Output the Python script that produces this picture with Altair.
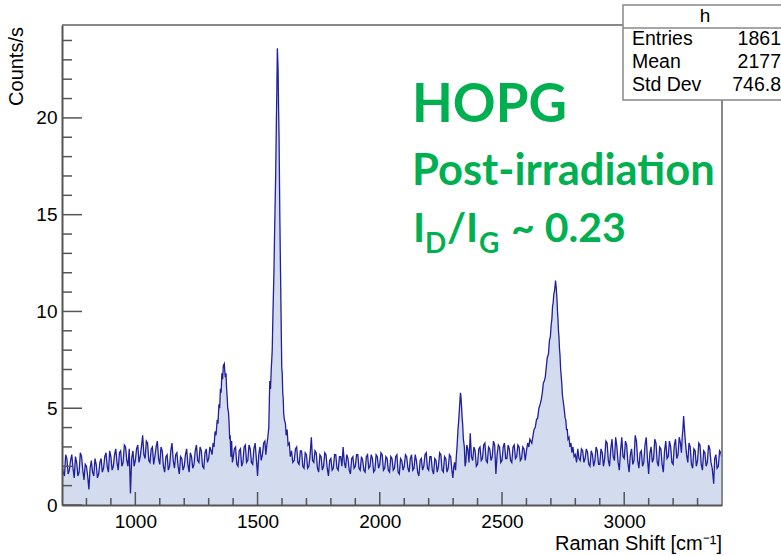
import altair as alt
import pandas as pd

# ---- spectrum values (Raman shift in cm^-1, counts/s) ----
shift_a = [700, 705, 710, 715, 720, 725, 730, 735, 740, 745, 750, 755, 760, 765, 770, 775,
           780, 785, 790, 795, 800, 805, 810, 815, 820, 825, 830, 835, 840,
           845, 850, 855, 860, 865, 870, 875, 880, 885, 890, 895, 900, 905, 910, 915, 920,
           925, 930, 935, 940, 945, 950, 955, 960,
           965, 970, 975, 980, 985, 990, 995, 1000, 1005, 1010, 1015, 1020, 1025, 1030, 1035,
           1040, 1045, 1050, 1055, 1060, 1065, 1070, 1075, 1080, 1085, 1090, 1095, 1100,
           1105, 1110, 1115, 1120, 1125, 1130, 1135, 1140, 1145, 1150, 1155, 1160, 1165, 1170,
           1175, 1180, 1185, 1190, 1195, 1200, 1205, 1210, 1215, 1220, 1225, 1230,
           1235, 1240, 1245, 1250, 1255, 1260, 1265, 1270, 1275, 1280, 1285, 1290, 1295, 1300,
           1305, 1310]
counts_a = [2.1, 1.7, 1.5, 2.6, 2.4, 1.6, 1.8, 2.3, 2.6, 1.9, 1.4, 2.5, 2.2, 1.5, 1.7, 2.7,
            2.5, 1.8, 1.3, 2.1, 2.0, 1.5, 0.8, 1.9, 2.3, 1.7, 1.5, 2.4, 2.1,
            1.4, 1.6, 2.2, 2.4, 1.7, 1.9, 2.5, 2.7, 2.0, 1.7, 2.8, 2.5, 1.8, 2.0, 2.6, 2.9,
            2.2, 1.8, 2.7, 2.8, 2.0, 2.2, 3.1, 3.0,
            2.3, 2.0, 2.9, 0.6, 2.4, 2.8, 2.0, 2.3, 2.9, 3.1, 2.2, 2.5, 3.0, 3.6, 2.6,
            2.4, 3.3, 3.2, 2.3, 2.2, 2.9, 3.0, 2.1, 2.5, 3.0, 3.3, 2.4, 2.1,
            3.0, 2.8, 2.0, 1.7, 2.5, 2.6, 1.8, 2.0, 2.8, 3.2, 2.3, 1.9, 2.6, 2.7,
            2.0, 1.6, 2.5, 2.4, 1.8, 2.0, 2.6, 2.9, 2.1, 1.7, 2.7, 2.5,
            1.9, 2.1, 2.8, 3.1, 2.3, 2.2, 3.0, 2.8, 2.0, 1.9, 2.7, 2.9, 2.2, 2.4,
            3.0, 2.8]

shift_d = [1314, 1318, 1322, 1326, 1330, 1335, 1338, 1342, 1345, 1348, 1351, 1354, 1357,
           1360, 1364, 1366, 1368, 1371, 1373, 1376, 1378, 1381, 1383, 1386, 1388, 1391,
           1394, 1397, 1400]
counts_d = [2.6, 3.2, 3.0, 3.8, 3.6, 4.4, 4.2, 5.2, 5.0, 6.0, 5.8, 6.8, 6.5,
            7.2, 7.3, 6.9, 6.6, 6.8, 6.1, 5.5, 5.0, 4.8, 4.4, 3.4, 3.6, 2.5,
            3.3, 2.2, 2.4]

shift_b = [1405, 1410, 1415, 1420, 1425, 1430, 1435, 1440, 1445, 1450, 1455, 1460, 1465,
           1470, 1475, 1480, 1485, 1490, 1495, 1500, 1505, 1510, 1515, 1520, 1525, 1530,
           1534, 1537]
counts_b = [2.9, 3.0, 2.1, 2.0, 2.8, 2.9, 2.0, 2.2, 3.0, 3.1, 2.2, 2.3, 3.1,
            2.9, 2.2, 2.1, 2.9, 3.2, 2.4, 1.5, 2.6, 3.0, 2.3, 2.6, 3.2, 3.3,
            2.6, 3.0]

shift_g = [1542, 1546, 1550, 1553, 1556, 1560, 1563, 1567, 1570, 1574, 1577, 1579, 1581,
           1584, 1586, 1588, 1591, 1594, 1597, 1599, 1601, 1603, 1605, 1607, 1610, 1614,
           1617, 1621, 1625, 1630, 1634, 1639, 1644]
counts_g = [3.5, 4.0, 6.4, 6.0, 7.0, 8.0, 9.9, 12.0, 14.3, 17.0, 19.8, 21.5, 23.6,
            22.5, 20.5, 19.0, 15.0, 12.0, 9.0, 7.1, 6.8, 5.8, 5.5, 4.7, 4.4, 4.2,
            3.6, 3.9, 3.1, 3.2, 2.5, 2.8, 2.2]

shift_c = [1650, 1655, 1660, 1665, 1670, 1675, 1680, 1685, 1690, 1695, 1700, 1705, 1710,
           1715, 1720, 1725, 1730, 1735, 1740, 1745, 1750, 1755, 1760, 1765, 1770, 1775,
           1780, 1785, 1790, 1795, 1800, 1805, 1810, 1815, 1820, 1825, 1830, 1835, 1840,
           1845, 1850, 1855, 1860, 1865, 1870, 1875, 1880, 1885, 1890, 1895, 1900, 1905,
           1910, 1915, 1920, 1925, 1930, 1935, 1940, 1945, 1950, 1955, 1960, 1965, 1970,
           1975, 1980, 1985, 1990, 1995, 2000, 2005, 2010, 2015, 2020, 2025, 2030, 2035,
           2040, 2045, 2050, 2055, 2060, 2065, 2070, 2075, 2080, 2085, 2090, 2095, 2100,
           2105, 2110, 2115, 2120, 2125, 2130, 2135, 2140, 2145, 2150, 2155, 2160, 2165,
           2170, 2175, 2180, 2185, 2190, 2195, 2200, 2205, 2210, 2215, 2220, 2225, 2230,
           2235, 2240, 2245, 2250, 2255, 2260, 2265, 2270, 2275, 2280, 2285, 2290, 2295, 2299]
counts_c = [2.3, 2.9, 3.0, 2.2, 2.1, 2.8, 2.8, 2.0, 1.9, 2.7, 2.6, 1.9, 2.0,
            2.6, 3.5, 2.3, 2.2, 2.8, 2.7, 1.9, 1.7, 2.6, 2.5, 1.8, 2.0, 2.7,
            2.6, 1.9, 1.5, 2.3, 2.4, 1.8, 1.9, 2.6, 2.6, 1.9, 1.8, 2.5, 2.5,
            2.0, 3.0, 2.2, 1.9, 2.6, 2.4, 1.8, 1.6, 2.4, 2.5, 1.9, 2.0, 2.6,
            2.6, 1.9, 1.8, 2.5, 2.3, 1.8, 1.7, 2.5, 2.6, 1.9, 2.0, 2.6, 2.4,
            1.7, 1.8, 2.6, 2.5, 1.9, 2.1, 2.7, 2.6, 1.8, 1.9, 2.5, 2.4, 1.8,
            1.7, 2.5, 2.4, 1.8, 1.9, 2.5, 2.6, 1.7, 1.6, 2.4, 2.3, 1.8, 2.0,
            2.6, 2.5, 1.9, 1.7, 2.4, 2.6, 1.8, 1.9, 2.6, 2.3, 1.7, 1.5, 2.3,
            2.4, 1.8, 2.0, 2.6, 2.7, 1.9, 1.8, 2.5, 2.5, 1.8, 1.6, 2.4, 2.3,
            1.7, 2.0, 2.7, 2.6, 1.8, 1.7, 2.5, 2.4, 1.7, 1.9, 2.6, 2.5, 1.8, 1.4]

shift_n = [2303, 2306, 2310, 2313, 2316, 2320, 2323, 2326, 2330, 2332, 2334, 2337, 2339,
           2342, 2346, 2349, 2352, 2356]
counts_n = [2.0, 2.2, 1.8, 2.5, 3.0, 3.9, 4.4, 5.0, 5.8, 5.6, 5.2, 4.5, 4.2,
            3.4, 3.0, 2.0, 2.2, 3.1]

shift_e = [2360, 2365, 2370, 2375, 2380, 2385, 2390, 2395, 2400, 2405, 2410, 2415, 2420,
           2425, 2430, 2435, 2440, 2445, 2450, 2455, 2460, 2465, 2470, 2475, 2480, 2485,
           2490, 2495, 2500, 2505, 2510, 2515, 2520, 2525, 2530, 2535, 2540, 2545, 2550,
           2555, 2560, 2565, 2570, 2575, 2580, 2585, 2590, 2595, 2600, 2605]
counts_e = [2.9, 2.2, 3.7, 2.5, 2.3, 3.0, 2.8, 2.0, 2.1, 2.9, 3.0, 2.3, 2.4,
            3.1, 3.2, 2.3, 2.2, 3.0, 2.9, 2.3, 2.5, 3.3, 3.1, 1.6, 2.6, 3.1,
            3.0, 2.2, 2.3, 3.0, 3.2, 2.4, 2.4, 3.1, 2.9, 2.3, 2.2, 3.0, 3.1,
            2.4, 2.5, 3.1, 3.0, 2.3, 2.4, 3.0, 2.9, 2.3, 2.8, 3.2]

shift_2d = [2610, 2614, 2618, 2622, 2627, 2631, 2636, 2641, 2646, 2651, 2656, 2660, 2665,
            2669, 2673, 2677, 2681, 2685, 2690, 2694, 2698, 2701, 2704, 2707, 2709, 2712,
            2714, 2717, 2719, 2722, 2725, 2727, 2729, 2731, 2733, 2735, 2737, 2740, 2742,
            2745, 2747, 2750, 2753, 2755, 2758, 2761, 2764, 2767, 2770, 2774, 2778, 2782,
            2786, 2790, 2795]
counts_2d = [3.0, 3.4, 3.3, 3.2, 3.6, 3.9, 4.0, 4.4, 4.5, 5.0, 5.2, 5.4, 5.8,
             6.3, 6.4, 6.6, 7.1, 7.6, 7.8, 8.5, 8.7, 9.3, 9.6, 10.3, 10.4, 10.9,
             11.0, 11.3, 11.6, 11.2, 10.6, 10.0, 9.6, 9.0, 8.7, 8.1, 7.8, 7.0, 6.7,
             6.2, 5.7, 5.4, 5.1, 4.9, 4.5, 4.4, 3.9, 3.9, 3.4, 3.5, 3.0, 3.2,
             2.7, 3.0, 2.5]

shift_f = [2800, 2805, 2810, 2815, 2820, 2825, 2830, 2835, 2840, 2845, 2850, 2855, 2860,
           2865, 2870, 2875, 2880, 2885, 2890, 2895, 2900, 2905, 2910, 2915, 2920, 2925,
           2930, 2935, 2940, 2945, 2950, 2955, 2960, 2965, 2970, 2975, 2980, 2985, 2990,
           2995, 3000, 3005, 3010, 3015, 3020, 3025, 3030, 3035, 3040, 3045, 3050, 3055,
           3060, 3065, 3070, 3075, 3080, 3085, 3090, 3095, 3100, 3105, 3110, 3115, 3120,
           3125, 3130, 3135, 3140, 3145, 3150, 3155, 3160, 3165, 3170, 3175, 3180, 3185,
           3190, 3195, 3200, 3205, 3210, 3215, 3220, 3225, 3230, 3234, 3237, 3240, 3243,
           3246, 3250, 3255, 3260, 3265, 3270, 3275, 3280, 3285, 3290, 3295, 3300, 3305,
           3310, 3315, 3320, 3325, 3330, 3335, 3340, 3345, 3350, 3355, 3360, 3366, 3370,
           3375, 3380, 3385, 3390, 3395, 3400]
counts_f = [2.6, 2.2, 2.9, 2.4, 2.3, 2.9, 2.8, 2.2, 2.4, 2.9, 2.7, 2.1, 2.0,
            2.8, 2.6, 2.0, 2.3, 3.0, 2.8, 2.1, 2.1, 2.9, 2.7, 2.0, 2.4, 3.3,
            3.2, 2.3, 2.0, 2.9, 3.4, 2.5, 2.3, 3.5, 3.0, 2.2, 1.8, 2.8, 3.5,
            2.5, 2.4, 3.3, 3.1, 2.2, 1.7, 2.6, 2.9, 2.1, 2.3, 3.6, 3.3, 2.3,
            1.9, 2.7, 2.8, 2.0, 2.2, 3.1, 3.5, 2.4, 1.6, 2.7, 3.0, 2.2, 2.4,
            3.4, 3.2, 2.2, 2.0, 3.0, 2.9, 2.1, 1.7, 2.8, 3.3, 2.4, 2.5, 3.3,
            3.0, 2.2, 2.1, 3.1, 3.4, 2.4, 2.6, 3.5, 3.2, 2.7, 3.5, 3.9, 4.6,
            4.0, 3.3, 2.6, 2.2, 3.2, 3.0, 2.1, 1.9, 2.9, 2.8, 2.0, 2.3, 3.2,
            3.1, 2.1, 1.8, 2.8, 2.7, 2.0, 2.2, 3.1, 2.9, 2.2, 1.9, 1.1, 2.4,
            2.6, 1.9, 2.0, 2.8, 2.7, 2.4]

shift = shift_a + shift_d + shift_b + shift_g + shift_c + shift_n + shift_e + shift_2d + shift_f
counts = counts_a + counts_d + counts_b + counts_g + counts_c + counts_n + counts_e + counts_2d + counts_f

# ---- axes ----
x_major = [1000, 1500, 2000, 2500, 3000]
x_minor = [800, 900, 1100, 1200, 1300, 1400, 1600, 1700, 1800, 1900, 2100, 2200, 2300,
           2400, 2600, 2700, 2800, 2900, 3100, 3200, 3300]
y_major = [0, 5, 10, 15, 20]
y_minor = [1, 2, 3, 4, 6, 7, 8, 9, 11, 12, 13, 14, 16, 17, 18, 19, 21, 22, 23, 24]

stat_names = ["Entries", "Mean", "Std Dev"]
stat_values = ["1861", "2177", "746.8"]

W, H = 660, 480
FONT = "Liberation Sans"
GREEN = "#00b050"

df = pd.DataFrame({"shift": shift, "counts": counts})
xs = alt.Scale(domain=[700, 3400], nice=False, zero=False)
ys = alt.Scale(domain=[0, 24.8], nice=False, zero=False)

XAX = alt.Axis(values=x_major, ticks=False, grid=False, title=None, format="d",
               labelFont=FONT, labelFontSize=19, labelColor="#000",
               labelPadding=7, domainColor="#555", domainWidth=2, zindex=1)
YAX = alt.Axis(values=y_major, ticks=False, grid=False, title=None, format="d",
               labelFont=FONT, labelFontSize=19, labelColor="#000",
               labelPadding=5, domainColor="#555", domainWidth=2, zindex=1)

area = alt.Chart(df).mark_area(color="#d3dcee", opacity=1, clip=True).encode(
    x=alt.X("shift:Q", scale=xs, axis=XAX),
    y=alt.Y("counts:Q", scale=ys, axis=YAX),
)
line = alt.Chart(df).mark_line(color="#20209c", strokeWidth=1.3, clip=True).encode(
    x=alt.X("shift:Q", scale=xs, axis=XAX),
    y=alt.Y("counts:Q", scale=ys, axis=YAX),
)

def xticks(vals, length):
    return alt.Chart(pd.DataFrame({"shift": vals})).mark_rule(color="#555", strokeWidth=1.5).encode(
        x=alt.X("shift:Q", scale=xs, axis=XAX), y=alt.value(H), y2=alt.value(H - length))

def yticks(vals, length):
    return alt.Chart(pd.DataFrame({"counts": vals})).mark_rule(color="#555", strokeWidth=1.5).encode(
        y=alt.Y("counts:Q", scale=ys, axis=YAX), x=alt.value(0), x2=alt.value(length))

one = pd.DataFrame({"k": [0]})
frame_top = alt.Chart(one).mark_rule(color="#888", strokeWidth=2).encode(
    x=alt.value(0), x2=alt.value(W), y=alt.value(0))
frame_right = alt.Chart(one).mark_rule(color="#888", strokeWidth=2).encode(
    x=alt.value(W), y=alt.value(0), y2=alt.value(H))

box = alt.Chart(one).mark_rect(fill="white", stroke="#888", strokeWidth=1.5).encode(
    x=alt.value(561), x2=alt.value(728), y=alt.value(-20), y2=alt.value(75))
box_line = alt.Chart(one).mark_rule(color="#888", strokeWidth=1.5).encode(
    x=alt.value(561), x2=alt.value(728), y=alt.value(3))

def txt(t, x, y, size, color="#000", align="left", baseline="alphabetic", weight="normal",
        font=FONT, angle=0):
    kw = dict(align=align, baseline=baseline, fontSize=size, color=color, font=font,
              fontWeight=weight)
    if angle:
        kw["angle"] = angle
    return alt.Chart(pd.DataFrame({"t": [t]})).mark_text(**kw).encode(
        text="t:N", x=alt.value(x), y=alt.value(y))

stats = [txt("h", 643, -3, 19, align="center")]
for i, (n, v) in enumerate(zip(stat_names, stat_values)):
    stats.append(txt(n, 570, 20 + 23 * i, 19.5))
    stats.append(txt(v, 719, 20 + 23 * i, 19.5, align="right"))

GF = "Lato"
green = [
    txt("HOPG", 350, 97, 53, color=GREEN, weight="bold", font=GF),
    txt("Post-irradiation", 350, 160, 43.5, color=GREEN, weight="bold", font=GF),
    txt("I", 351, 217, 41, color=GREEN, weight="bold", font=GF),
    txt("D", 363, 228, 28, color=GREEN, weight="bold", font=GF),
    txt("/I", 385, 217, 41, color=GREEN, weight="bold", font=GF),
    txt("G", 417, 228, 28, color=GREEN, weight="bold", font=GF),
    txt("~ 0.23", 449, 217, 41, color=GREEN, weight="bold", font=GF),
]

titles = [
    txt("Counts/s", -45, 2, 20, align="right", baseline="middle", angle=270),
    txt("Raman Shift [cm\u207b\u00b9]", 660, 525, 20, align="right"),
]

chart = alt.layer(
    area, line,
    xticks(x_major, 13), xticks(x_minor, 7),
    yticks(y_major, 20), yticks(y_minor, 10),
    frame_top, frame_right, box, box_line,
    *stats, *green, *titles,
).properties(
    width=W, height=H,
    autosize=alt.AutoSizeParams(type="none"),
    padding={"left": 62, "top": 25, "right": 59, "bottom": 51},
    background="white",
).configure_view(stroke=None)

chart.save("out.html", embed_options={"renderer": "svg", "actions": False})
